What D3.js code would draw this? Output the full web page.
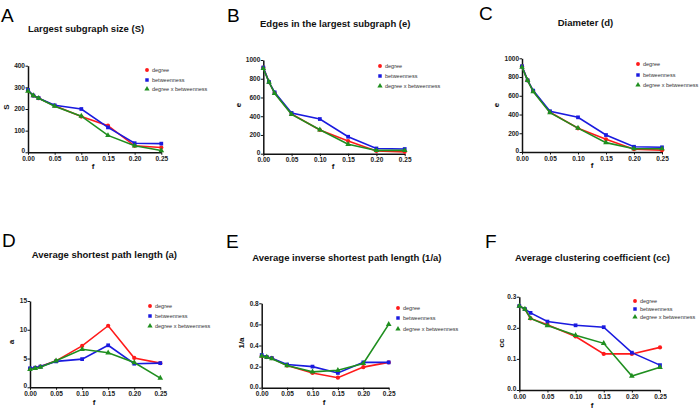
<!DOCTYPE html>
<html><head><meta charset="utf-8">
<script src="https://cdn.jsdelivr.net/npm/d3@7"></script>
<style>
html,body{margin:0;padding:0;background:#fff;}
text{font-family:"Liberation Sans",Arial,sans-serif;}
</style></head>
<body>
<svg id="chart" width="700" height="411"></svg>
<script>
// ---- data ----
const fValues = [0, 0.01, 0.02, 0.05, 0.10, 0.15, 0.20, 0.25];
const xTicks = [0, 0.05, 0.10, 0.15, 0.20, 0.25];
const seriesNames = ["degree", "betweenness", "degree x betweenness"];
const seriesColors = ["#ff1a1a", "#1a1adf", "#1f8f1f"];

const sDegree = [285, 262, 250, 215, 165, 123, 30, 22];
const sBetween = [288, 262, 250, 217, 200, 115, 42, 40];
const sDxB = [283, 262, 250, 213, 167, 78, 30, 8];

const eDegree = [920, 765, 650, 425, 253, 135, 30, 20];
const eBetween = [920, 765, 655, 435, 370, 181, 56, 50];
const eDxB = [910, 765, 645, 420, 255, 100, 35, 35];

const dDegree = [915, 765, 650, 425, 253, 135, 30, 20];
const dBetween = [915, 765, 655, 435, 370, 181, 56, 50];
const dDxB = [905, 765, 645, 420, 255, 100, 35, 35];

const aDegree = [3.2, 3.4, 3.6, 4.6, 7.2, 10.7, 5.1, 4.2];
const aBetween = [3.3, 3.4, 3.6, 4.5, 4.9, 7.3, 4.1, 4.2];
const aDxB = [3.1, 3.3, 3.5, 4.6, 6.6, 6.0, 4.3, 1.6];

const invDegree = [0.30, 0.29, 0.28, 0.21, 0.14, 0.095, 0.195, 0.24];
const invBetween = [0.31, 0.29, 0.28, 0.22, 0.20, 0.14, 0.24, 0.24];
const invDxB = [0.30, 0.29, 0.275, 0.21, 0.15, 0.165, 0.23, 0.60];

const ccDegree = [0.27, 0.26, 0.23, 0.21, 0.172, 0.116, 0.116, 0.137];
const ccBetween = [0.27, 0.26, 0.248, 0.22, 0.208, 0.202, 0.12, 0.08];
const ccDxB = [0.27, 0.26, 0.23, 0.207, 0.176, 0.15, 0.045, 0.073];

const sTicks = [0, 100, 200, 300, 400];
const eTicks = [0, 200, 400, 600, 800, 1000];
const aTicks = [0, 5, 10, 15];
const invTicks = [0, 0.2, 0.4, 0.6, 0.8];
const ccTicks = [0, 0.1, 0.2, 0.3];

// ---- layout ----
const panels = [
  {letter:"A", title:"Largest subgraph size (S)", ylab:"S", series:[sDegree,sBetween,sDxB], ticks:sTicks, fmt:d3.format("d"),
   x0:28, x1:161.3, yb:152.3, yt:65.7, tx:28, ty:32, lx:1, ly:22, ylx:9, yly:107, fx:93, fy:169, legx:147, legy:[70,80,89]},
  {letter:"B", title:"Edges in the largest subgraph (e)", ylab:"e", series:[eDegree,eBetween,eDxB], ticks:eTicks, fmt:d3.format("d"),
   x0:263.3, x1:404.7, yb:153.7, yt:60, tx:260, ty:27, lx:227, ly:22, ylx:241, yly:105, fx:333, fy:169, legx:380, legy:[66,76,86]},
  {letter:"C", title:"Diameter (d)", ylab:"e", series:[dDegree,dBetween,dDxB], ticks:eTicks, fmt:d3.format("d"),
   x0:522, x1:662, yb:152, yt:58.3, tx:557.7, ty:26, lx:479, ly:20, ylx:499, yly:105, fx:592, fy:168, legx:638, legy:[64,75,85]},
  {letter:"D", title:"Average  shortest path length (a)", ylab:"a", series:[aDegree,aBetween,aDxB], ticks:aTicks, fmt:d3.format("d"),
   x0:30, x1:160.3, yb:387.3, yt:301, tx:31.7, ty:258, lx:2, ly:247, ylx:14, yly:342, fx:94, fy:405, legx:150, legy:[306,316,326]},
  {letter:"E", title:"Average inverse shortest path length (1/a)", ylab:"1/a", series:[invDegree,invBetween,invDxB], ticks:invTicks, fmt:d3.format(".1f"),
   x0:261.7, x1:388.7, yb:387.7, yt:303.3, tx:252.3, ty:261, lx:226, ly:248, ylx:244, yly:343, fx:324, fy:405, legx:398, legy:[308,318,329]},
  {letter:"F", title:"Average clustering coefficient (cc)", ylab:"cc", series:[ccDegree,ccBetween,ccDxB], ticks:ccTicks, fmt:d3.format(".1f"),
   x0:519.3, x1:660, yb:390, yt:296.7, tx:515, ty:261, lx:485, ly:248, ylx:504, yly:343, fx:592, fy:408, legx:635, legy:[301,309,317]}
];

const svg = d3.select("#chart");
const symbols = [d3.symbolCircle, d3.symbolSquare, d3.symbolTriangle];

panels.forEach(p => {
  const g = svg.append("g");
  const x = d3.scaleLinear().domain([0, 0.25]).range([p.x0, p.x1]);
  const y = d3.scaleLinear().domain([p.ticks[0], p.ticks[p.ticks.length-1]]).range([p.yb, p.yt]);

  g.append("text").attr("x", p.lx).attr("y", p.ly).attr("font-size", 19).attr("fill", "#000").text(p.letter);
  g.append("text").attr("x", p.tx).attr("y", p.ty).attr("font-size", 9.5).attr("font-weight", "bold").attr("fill","#111").text(p.title);

  const xa = g.append("g").attr("transform", `translate(0,${p.yb})`)
    .call(d3.axisBottom(x).tickValues(xTicks).tickFormat(d3.format(".2f")).tickSize(2.5).tickSizeOuter(0));
  const ya = g.append("g").attr("transform", `translate(${p.x0},0)`)
    .call(d3.axisLeft(y).tickValues(p.ticks).tickFormat(p.fmt).tickSize(2.5).tickSizeOuter(0));
  [xa, ya].forEach(a => {
    a.select(".domain").attr("stroke", "#111").attr("stroke-width", 1.5);
    a.selectAll(".tick line").attr("stroke", "#111").attr("stroke-width", 1);
    a.selectAll(".tick text").attr("font-size", 6.5).attr("font-weight", "bold").attr("fill", "#222")
      .attr("font-family", "'Liberation Sans',Arial,sans-serif");
  });
  xa.selectAll(".tick text").attr("dy", null).attr("y", 8.5);
  ya.selectAll(".tick text").attr("x", -3).attr("dy", "0.3em");
  // shift origin y label slightly up so it doesn't collide with x origin label
  ya.selectAll(".tick text").filter(d => d === 0).attr("dy", "0.05em");

  g.append("text").attr("transform", `translate(${p.ylx},${p.yly}) rotate(-90)`).attr("text-anchor","middle")
    .attr("font-size", 8).attr("font-weight","bold").attr("fill","#111").text(p.ylab);
  g.append("text").attr("x", p.fx).attr("y", p.fy).attr("text-anchor","middle")
    .attr("font-size", 8).attr("font-weight","bold").attr("fill","#111").text("f");

  const line = d3.line().x((d,i) => x(fValues[i])).y(d => y(d));
  p.series.forEach((vals, si) => {
    g.append("path").datum(vals).attr("d", line).attr("fill","none")
      .attr("stroke", seriesColors[si]).attr("stroke-width", 1.6);
    g.selectAll(null).data(vals).enter().append("path")
      .attr("transform", (d,i) => `translate(${x(fValues[i])},${y(d)})`)
      .attr("d", d3.symbol().type(symbols[si]).size(14))
      .attr("fill", seriesColors[si]);
  });

  seriesNames.forEach((nm, si) => {
    const ly = p.legy[si];
    g.append("path").attr("transform", `translate(${p.legx},${ly})`)
      .attr("d", d3.symbol().type(symbols[si]).size(12)).attr("fill", seriesColors[si]);
    g.append("text").attr("x", p.legx + 5).attr("y", ly + 2).attr("font-size", 5.5).attr("fill","#333").text(nm);
  });
});
</script>
</body></html>
